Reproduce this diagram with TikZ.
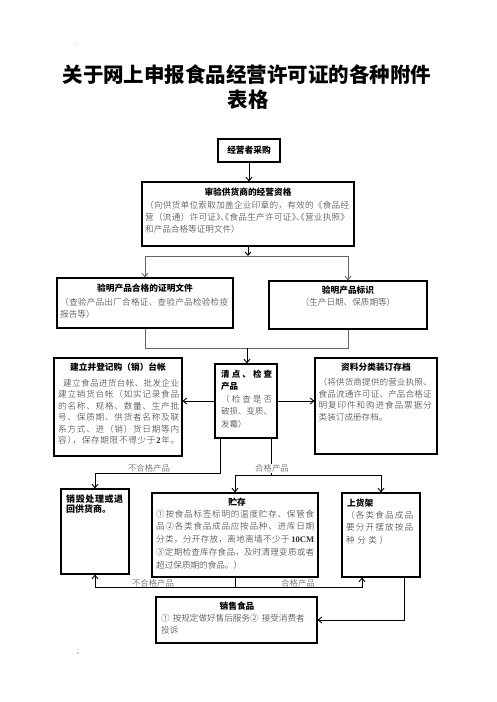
\documentclass[tikz,border=0pt]{standalone}
\usepackage{fontspec}
\setmainfont{Noto Sans CJK SC}
\IfFontExistsTF{Noto Sans CJK SC Light}{\newfontfamily\lightf{Noto Sans CJK SC Light}}{\newfontfamily\lightf{Noto Sans CJK SC}}
\newfontfamily\lat{Liberation Serif}
\usetikzlibrary{arrows.meta}
\definecolor{txt}{RGB}{45,45,45}
\definecolor{lbl}{RGB}{70,70,70}
\definecolor{gln}{RGB}{100,100,100}
\def\jstA#1#2\relax{#1\ifx\relax#2\relax\else\hfill\jstA#2\relax\fi}
\newcommand\jline[2]{\hbox to #1{\jstA#2\relax}}
\newcommand\hR[1]{\makebox[.5em][l]{#1}}
\newcommand\hL[1]{\makebox[.5em][r]{#1}}
\tikzset{
  box/.style={draw=black, line width=1.2pt, inner sep=0pt},
  ttl/.style={font=\fontsize{8.7}{10}\selectfont\bfseries, inner sep=0pt},
  body/.style={font=\lightf\fontsize{8.6}{12}\selectfont, text=txt, align=left, inner sep=0pt, anchor=north west},
  lab/.style={font=\lightf\fontsize{8.4}{10}\selectfont, text=lbl, inner sep=0.6pt},
  arr/.style={-{Straight Barb[length=3.5pt,width=6pt]}, line width=0.9pt},
  ln/.style={line width=0.9pt},
  gl/.style={line width=0.9pt, draw=gln},
  garr/.style={arr, draw=gln}
}
\begin{document}
\begin{tikzpicture}[x=1pt,y=-1pt]
\useasboundingbox (0,0) rectangle (496,702);
% stray marks
\node[font=\fontsize{6}{6}\selectfont, text=lbl, inner sep=0pt] (d1) at (76,45) {.};
\node[font=\fontsize{7}{7}\selectfont, text=lbl, inner sep=0pt] (d2) at (78,652) {;};
% title
\node[font=\fontsize{20.5}{24}\selectfont\bfseries, inner sep=0pt] (t1) at (247,75) {关于网上申报食品经营许可证的各种附件};
\node[font=\fontsize{20.5}{24}\selectfont\bfseries, inner sep=0pt] (t2) at (248,100) {表格};
% boxes
\node[box, minimum width=62pt, minimum height=23pt] (b1) at (249,150.5) {};
\node[box, minimum width=212pt, minimum height=64pt] (b2) at (248,214) {};
\node[box, minimum width=176pt, minimum height=50pt] (b3) at (145,303) {};
\node[box, minimum width=158pt, minimum height=48pt] (b4) at (348,305) {};
\node[box, minimum width=128pt, minimum height=98pt] (b5) at (118,407) {};
\node[box, minimum width=62pt, minimum height=74pt] (b6) at (246,401) {};
\node[box, minimum width=122pt, minimum height=96pt] (b7) at (376,406) {};
\node[box, minimum width=68pt, minimum height=85pt] (b8) at (95,531.5) {};
\node[box, minimum width=166pt, minimum height=84pt] (b9) at (235,535) {};
\node[box, minimum width=78pt, minimum height=84pt] (b10) at (381,535) {};
\node[box, minimum width=161pt, minimum height=46pt] (b11) at (236.5,620) {};
% texts
\node[ttl] (x1) at (249,150.5) {经营者采购};
\node[ttl] (x2) at (248,192) {审验供货商的经营资格};
\node[body, font=\lightf\fontsize{8.6}{12.2}\selectfont] (x2b) at (145,200.7) {%
\jline{204pt}{（向供货单位索取加盖企业印章的，有效的《食品经}\\
\jline{204pt}{营（流通）许可证{{\hR{》}\hR{、}\hL{《}}}食品生产许可证{{\hR{》}\hR{、}\hL{《}}}营业执照》}\\
和产品合格等证明文件）};
\node[ttl] (x3) at (145,288) {验明产品合格的证明文件};
\node[body] (x3b) at (60,297.7) {%
\jline{168pt}{（查验产品出厂合格证、查验产品检验检疫}\\
报告等）};
\node[ttl] (x4) at (348,290) {验明产品标识};
\node[body, anchor=center] (x4b) at (348,302) {（生产日期、保质期等）};
\node[ttl] (x5) at (118,367) {建立并登记购（销）台帐};
\node[body, font=\lightf\fontsize{8.6}{11.5}\selectfont] (x5b) at (58,378.7) {%
\hbox to 121pt{\hskip5pt\jstA 建立食品进货台帐、批发企业\relax}\\
\jline{121pt}{建立销货台帐（如实记录食品}\\
\jline{121pt}{的名称、规格、数量、生产批}\\
\jline{121pt}{号、保质期、供货者名称及联}\\
\jline{121pt}{系方式、进（销）货日期等内}\\
\jline{121pt}{容{{\hR{）}}}，保存期限不得少于{{\lat\bfseries 2}}年。}};
\node[body, font=\fontsize{8.5}{12.5}\selectfont\bfseries, text=black] (x6) at (221,369.8) {%
\jline{51pt}{清点、检查}\\
产品};
\node[body, font=\lightf\fontsize{8.5}{12.5}\selectfont] (x6b) at (221,394.8) {%
\jline{51pt}{（检查是否}\\
\jline{51pt}{破损、变质、}\\
发霉）};
\node[ttl] (x7) at (376,367) {资料分类装订存档};
\node[body, font=\lightf\fontsize{8.6}{11.8}\selectfont] (x7b) at (318.5,377.7) {%
\jline{113pt}{（将供货商提供的营业执照、}\\
\jline{113pt}{食品流通许可证、产品合格证}\\
\jline{113pt}{明复印件和购进食品票据分}\\
类装订成册存档。};
\node[body, font=\fontsize{9}{10.5}\selectfont\bfseries, text=black] (x8) at (66,494.5) {%
\jline{57pt}{销毁处理或退}\\
回供货商。};
\node[ttl] (x9) at (237,502) {贮存};
\node[body, font=\lightf\fontsize{8.6}{12.75}\selectfont] (x9b) at (156,509.7) {%
\jline{158pt}{①按食品标签标明的温度贮存、保管食}\\
\jline{158pt}{品②各类食品成品应按品种、进库日期}\\
\jline{158pt}{分类，分开存放，离地离墙不少于{{\lat\bfseries\,10CM}}}\\
\jline{158pt}{③定期检查库存食品，及时清理变质或者}\\
超过保质期的食品。）};
\node[ttl, anchor=west] (x10) at (347,503) {上货架};
\node[body, font=\lightf\fontsize{8.6}{12.5}\selectfont] (x10b) at (346,510.7) {%
\jline{67pt}{（各类食品成品}\\
\jline{67pt}{要分开摆放按品}\\
\jline{42pt}{种分类）}};
\node[ttl] (x11) at (237,606) {销售食品};
\node[body, font=\lightf\fontsize{8.6}{12.8}\selectfont] (x11b) at (161,613.7) {%
①\hskip3pt 按规定做好售后服务②\hskip3pt 接受消费者\\
投诉};
% connectors
\draw[arr] (b1.south) -- (b1.south |- b2.north);
\coordinate (j1) at (248,256);
\draw[arr] (b2.south) -- (j1);
\draw[garr] (j1) -| (b3.north);
\draw[garr] (j1) -| (b4.north);
\coordinate (j2) at (247,348);
\draw[gl] (b3.south) -- (b3.south |- j2) -| (b4.south);
\draw[arr] (j2) -- (j2 |- b6.north);
\draw[arr] (b6.west) -- (b6.west -| b5.east);
\draw[arr] (b6.east) -- (b6.east -| b7.west);
\coordinate (c1) at (220,473);
\draw[arr] (c1 |- b6.south) -- (c1) -| (b8.north);
\coordinate (c2) at (271,475);
\draw[ln] (c2 |- b6.south) -- (c2);
\draw[arr] (c2) -| (b9.north);
\draw[arr] (c2) -| (b10.north);
\node[lab] (l1) at (149,468.5) {不合格产品};
\node[lab, fill=white] (l2) at (272,468.5) {合格产品};
\coordinate (c3) at (235,587);
\coordinate (c4) at (362,587);
\draw[ln] (b9.south) -- (c3);
\draw[arr] (c3) -| (b8.south);
\draw[arr] (c3) -- (c4) -- (c4 |- b10.south);
\node[lab] (l3) at (153,583) {不合格产品};
\node[lab] (l4) at (298,583) {合格产品};
\coordinate (c5) at (404,620);
\draw[arr] (c5 |- b10.south) -- (c5) -- (b11.east);
\end{tikzpicture}
\end{document}
